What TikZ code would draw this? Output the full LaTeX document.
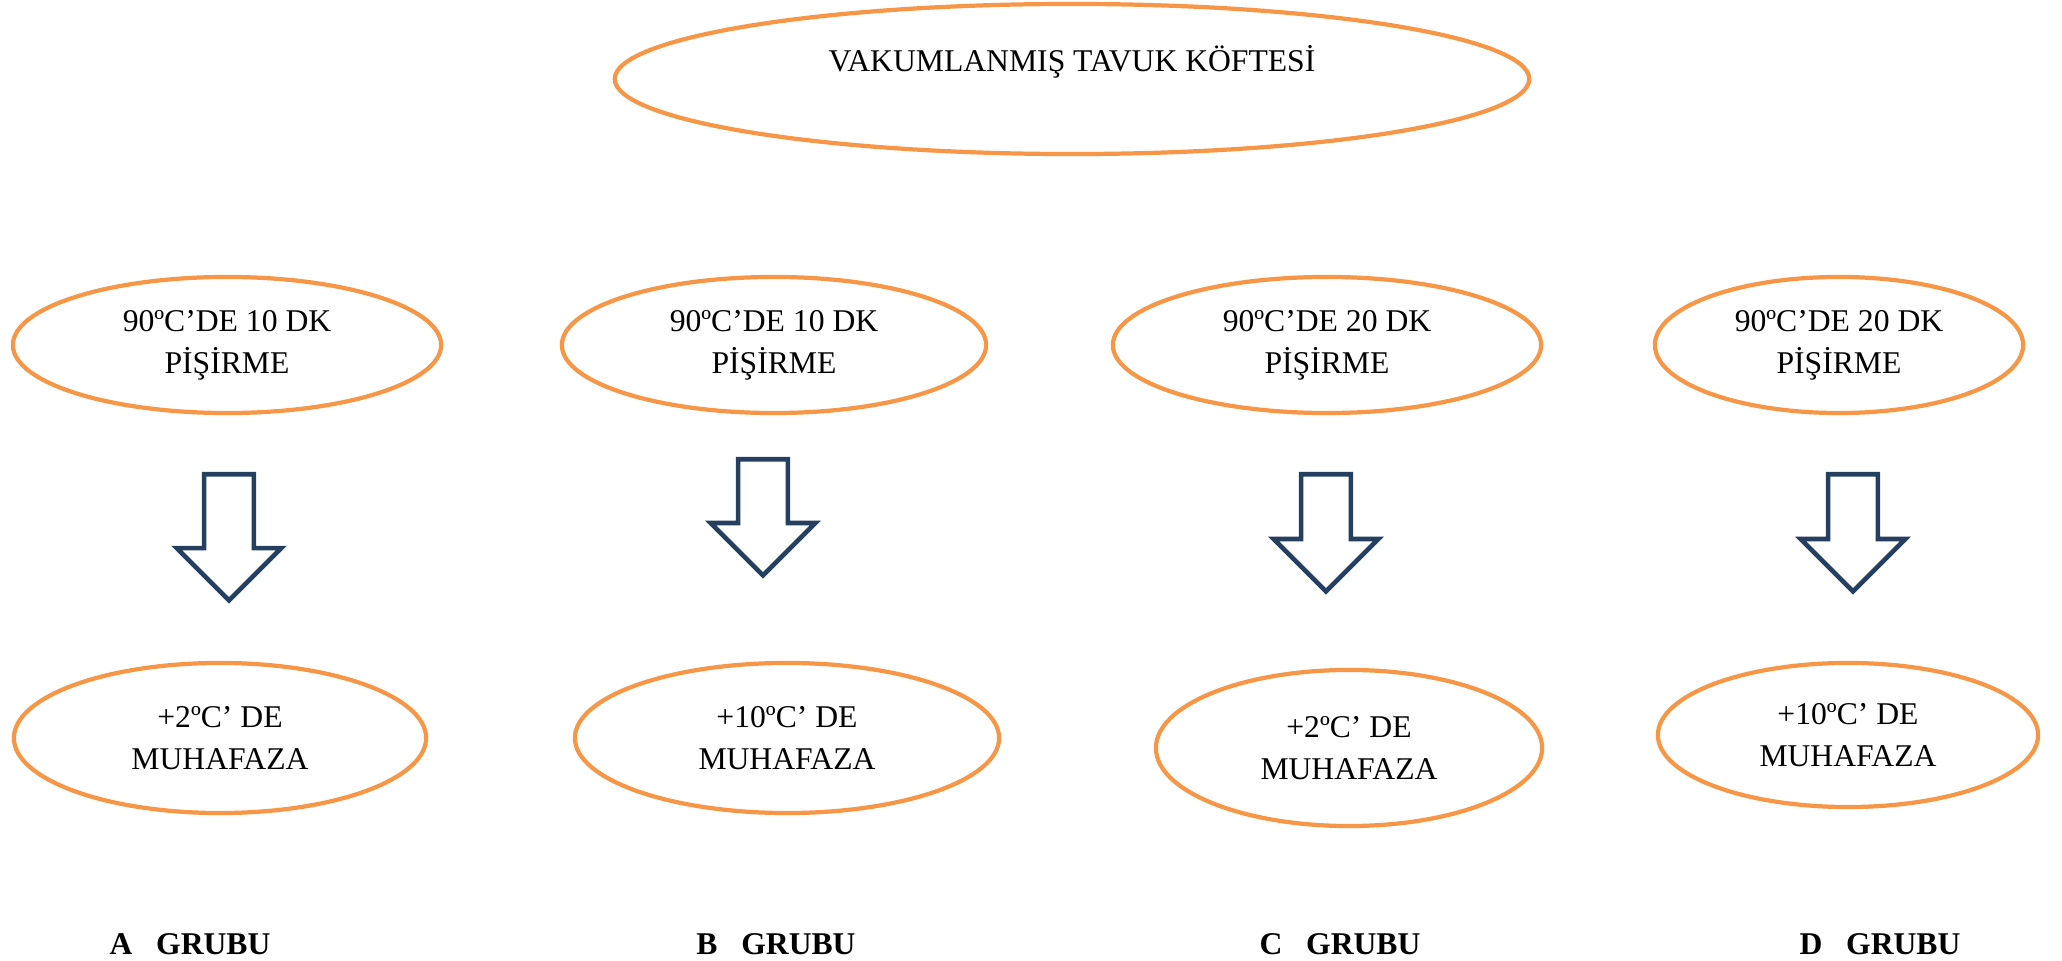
\documentclass[tikz,border=0pt]{standalone}
\usepackage{fontspec}
\setmainfont{Liberation Serif}
\usetikzlibrary{shapes.geometric,shapes.arrows}
\definecolor{KofteOrange}{RGB}{247,150,70}
\definecolor{KofteNavy}{RGB}{36,63,96}

\begin{document}
\begin{tikzpicture}[
        x=0.01cm, y=-0.01cm,
        oval/.style={
            draw=KofteOrange,
            ellipse,
            line width=1.2pt,
            inner sep=0pt,
            align=center,
            font=\fontsize{9}{11.9}\selectfont
        },
        downarrow/.style={
            draw=KofteNavy,
            fill=white,
            single arrow,
            single arrow tip angle=90,
            single arrow head extend=0.275cm,
            rotate=-90,
            anchor=tail,
            inner xsep=0pt,
            inner ysep=0.225cm,
            line width=1.3pt
        },
        group/.style={
            font=\fontsize{9}{11}\selectfont\bfseries
        }
    ]
        \useasboundingbox (0,0) rectangle (2062,961);

        \node[oval, minimum width=9.14cm, minimum height=1.50cm] (kofte) at (1072,79) {VAKUMLANMIŞ TAVUK KÖFTESİ\\\mbox{}};

        % pisirme
        \node[oval, minimum width=4.28cm, minimum height=1.36cm] (pisA) at (227,345) {90ºC’DE 10 DK\\PİŞİRME};
        \node[oval, minimum width=4.24cm, minimum height=1.36cm] (pisB) at (774,345) {90ºC’DE 10 DK\\PİŞİRME};
        \node[oval, minimum width=4.28cm, minimum height=1.36cm] (pisC) at (1327,345) {90ºC’DE 20 DK\\PİŞİRME};
        \node[oval, minimum width=3.68cm, minimum height=1.36cm] (pisD) at (1839,345) {90ºC’DE 20 DK\\PİŞİRME};

        % arrows
        \node[downarrow, minimum height=1.26cm] (arrA) at (229,472) {};
        \node[downarrow, minimum height=1.16cm] (arrB) at (763,457) {};
        \node[downarrow, minimum height=1.17cm] (arrC) at (1326,472) {};
        \node[downarrow, minimum height=1.17cm] (arrD) at (1853,472) {};

        % muhafaza
        \node[oval, minimum width=4.12cm, minimum height=1.50cm] (muhA) at (220,738) {+2ºC’ DE\\MUHAFAZA};
        \node[oval, minimum width=4.24cm, minimum height=1.50cm] (muhB) at (787,738) {+10ºC’ DE\\MUHAFAZA};
        \node[oval, minimum width=3.86cm, minimum height=1.56cm] (muhC) at (1349,748) {+2ºC’ DE\\MUHAFAZA};
        \node[oval, minimum width=3.80cm, minimum height=1.44cm] (muhD) at (1848,735) {+10ºC’ DE\\MUHAFAZA};

        \node[group] (grpA) at (190,944) {A\ \ \ GRUBU};
        \node[group] (grpB) at (776,944) {B\ \ \ GRUBU};
        \node[group] (grpC) at (1340,944) {C\ \ \ GRUBU};
        \node[group] (grpD) at (1880,944) {D\ \ \ GRUBU};
    \end{tikzpicture}
\end{document}
